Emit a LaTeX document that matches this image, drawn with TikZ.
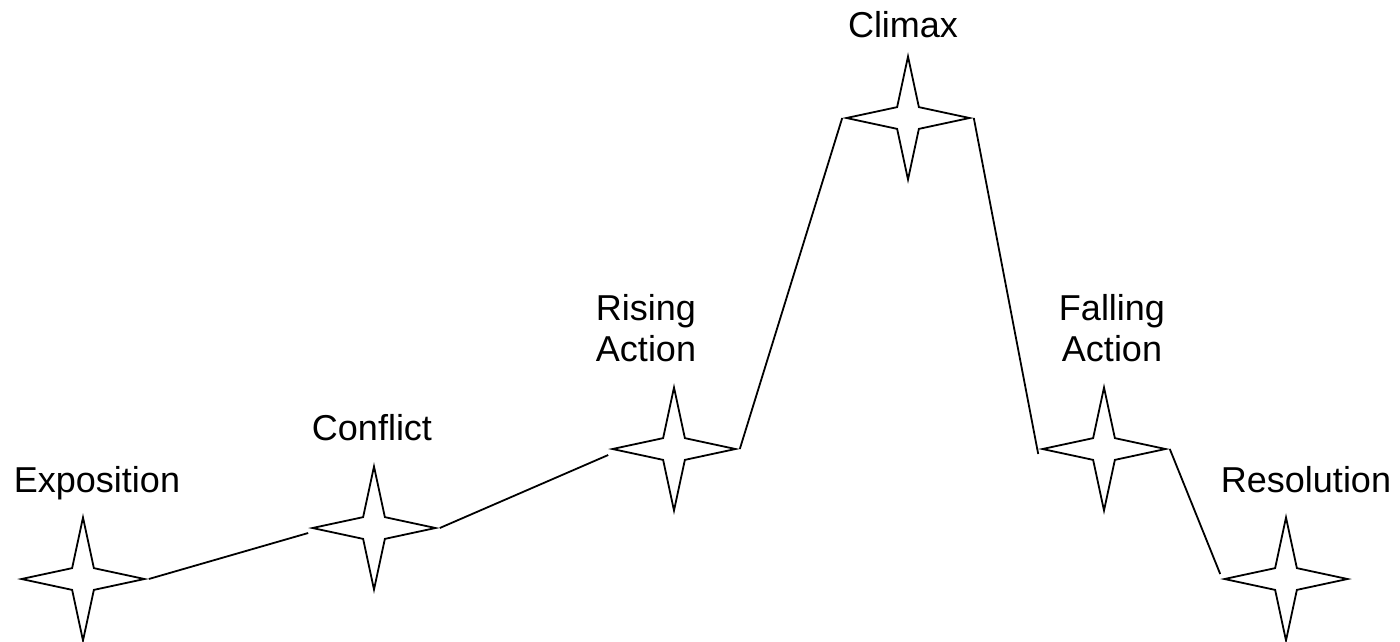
\documentclass[tikz,border=0pt]{standalone}
\usepackage{fontspec}
\setmainfont{Liberation Sans}
\usetikzlibrary{shapes.geometric}
\tikzset{
  spark/.style={star, star points=4, star point ratio=4, minimum size=123pt,
    inner sep=0pt, draw=black, line width=1.8pt, fill=white},
  lbl/.style={font=\fontsize{36}{41}\selectfont, inner sep=0pt, align=center, anchor=base},
  link/.style={line width=1.8pt, draw=black}
}
\begin{document}
\begin{tikzpicture}[x=1pt,y=-1pt]
\useasboundingbox[fill=white] (0,0) rectangle (1400,641);
\node[spark] (expo) at (83,579) {};
\node[spark] (conf) at (374,528) {};
\node[spark] (rise) at (674,449) {};
\node[spark] (clim) at (908,118) {};
\node[spark] (fall) at (1104,449) {};
\node[spark] (reso) at (1286,579) {};
\draw[link] (expo.east) -- ([yshift=-5pt]conf.west);
\draw[link] (conf.east) -- ([yshift=-6pt]rise.west);
\draw[link] (rise.east) -- (clim.west);
\draw[link] (clim.east) -- ([yshift=-5pt]fall.west);
\draw[link] (fall.east) -- ([yshift=5pt]reso.west);
\node[lbl] (texpo) at (97,492) {Exposition};
\node[lbl] (tconf) at (372,440) {Conflict};
\node[lbl] (trise) at (646,361) {Rising\\Action};
\node[lbl] (tclim) at (903,37) {Climax};
\node[lbl] (tfall) at (1112,361) {Falling\\Action};
\node[lbl] (treso) at (1306,492) {Resolution};
\end{tikzpicture}
\end{document}
